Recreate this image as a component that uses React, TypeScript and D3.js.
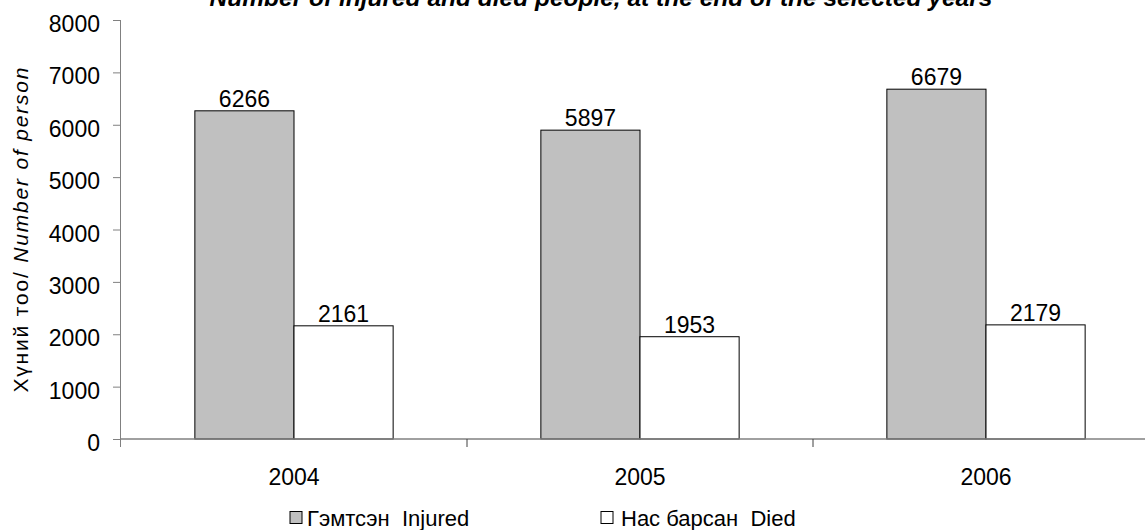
// App.tsx
import React, { useEffect, useRef } from 'react';
import * as d3 from 'd3';

// Chart data
const years = ['2004', '2005', '2006'];
const injured = [6266, 5897, 6679];
const died = [2161, 1953, 2179];
const yTicks = [0, 1000, 2000, 3000, 4000, 5000, 6000, 7000, 8000];
const seriesNames = ['Гэмтсэн  Injured', 'Нас барсан  Died'];
const seriesColors = ['#C0C0C0', '#FFFFFF'];

const App = () => {
  const d3Container = useRef<SVGSVGElement>(null);

  useEffect(() => {
    if (!d3Container.current) return;

    const width = 1145, height = 530;
    const margin = { top: 20, right: 0, bottom: 91, left: 121 };
    const font = '"Liberation Sans", Arial, sans-serif';

    const svg = d3.select(d3Container.current);
    svg.selectAll('*').remove();

    // x runs a little past the right edge, like the original plot area
    const x = d3.scaleBand()
                .domain(years)
                .range([margin.left, margin.left + 346 * 3])
                .paddingInner(0)
                .paddingOuter(0);

    const inner = d3.scaleBand()
                    .domain(['0', '1'])
                    .range([0, x.bandwidth()])
                    .paddingOuter(0.745)
                    .paddingInner(0);

    const y = d3.scaleLinear()
                .domain([0, 8000])
                .range([height - margin.bottom, margin.top]);

    // Title (cut at the top in the original)
    svg.append('text')
       .attr('x', 601)
       .attr('y', 6)
       .attr('text-anchor', 'middle')
       .attr('font-family', font)
       .attr('font-size', 24.5)
       .attr('font-weight', 'bold')
       .attr('font-style', 'italic')
       .text('Number of injured and died people, at the end of the selected years');

    // Bars
    const groups = svg.append('g')
      .selectAll('g')
      .data(years.map((yr, i) => ({ yr, vals: [injured[i], died[i]] })))
      .join('g')
        .attr('transform', d => `translate(${x(d.yr)},0)`);

    groups.selectAll('rect')
      .data(d => d.vals.map((v, k) => ({ v, k })))
      .join('rect')
        .attr('x', d => inner(String(d.k)) ?? 0)
        .attr('y', d => y(d.v))
        .attr('width', inner.bandwidth())
        .attr('height', d => y(0) - y(d.v))
        .attr('fill', d => seriesColors[d.k])
        .attr('stroke', '#000')
        .attr('stroke-width', 1);

    groups.selectAll('text')
      .data(d => d.vals.map((v, k) => ({ v, k })))
      .join('text')
        .attr('x', d => (inner(String(d.k)) ?? 0) + inner.bandwidth() / 2)
        .attr('y', d => y(d.v) - 4)
        .attr('text-anchor', 'middle')
        .attr('font-family', font)
        .attr('font-size', 23)
        .text(d => d.v);

    // Y axis
    const yAxis = svg.append('g')
      .attr('transform', `translate(${margin.left},0)`)
      .call(d3.axisLeft(y).tickValues(yTicks).tickSize(8).tickPadding(13).tickFormat(d3.format('d')));
    yAxis.selectAll('line').attr('stroke', '#808080');
    yAxis.select('.domain').attr('stroke', '#808080').attr('d', `M-0.5,${y(8000)}V${y(0) + 8}`);
    yAxis.selectAll('text')
         .attr('dy', '0.5em')
         .attr('font-family', font)
         .attr('font-size', 23)
         .attr('fill', '#000');

    // X axis with ticks between categories
    const xAxis = svg.append('g')
      .attr('transform', `translate(0,${y(0)})`);
    xAxis.append('line')
         .attr('x1', margin.left)
         .attr('x2', width)
         .attr('stroke', '#808080')
         .attr('stroke-width', 1.5);
    xAxis.selectAll('line.tick')
         .data(years.slice(1))
         .join('line')
           .attr('class', 'tick')
           .attr('x1', d => x(d) ?? 0)
           .attr('x2', d => x(d) ?? 0)
           .attr('y1', 0)
           .attr('y2', 8)
           .attr('stroke', '#404040');
    xAxis.selectAll('text')
         .data(years)
         .join('text')
           .attr('x', d => (x(d) ?? 0) + x.bandwidth() / 2)
           .attr('y', 46)
           .attr('text-anchor', 'middle')
           .attr('font-family', font)
           .attr('font-size', 23)
           .text(d => d);

    // Y axis title
    const yTitle = svg.append('text')
      .attr('transform', `translate(28,230) rotate(-90)`)
      .attr('text-anchor', 'middle')
      .attr('font-family', font)
      .attr('font-size', 21)
      .attr('textLength', 325)
      .attr('lengthAdjust', 'spacing');
    yTitle.append('tspan').text('Хүний тоо/ ');
    yTitle.append('tspan').attr('font-style', 'italic').text('Number of person');

    // Legend
    const boxX = [290, 601];
    const textX = [307, 621];
    const legend = svg.append('g')
      .selectAll('g')
      .data(seriesNames)
      .join('g');
    legend.append('rect')
          .attr('x', (d, i) => boxX[i])
          .attr('y', 511.5)
          .attr('width', 12)
          .attr('height', 12)
          .attr('fill', (d, i) => seriesColors[i])
          .attr('stroke', '#000');
    legend.append('text')
          .attr('x', (d, i) => textX[i])
          .attr('y', 526)
          .attr('font-family', font)
          .attr('font-size', 22)
          .style('white-space', 'pre')
          .text(d => d);
  }, []);

  return (
    <svg
      ref={d3Container}
      width={1145}
      height={530}
      style={{ position: 'absolute', left: 0, top: 0, background: '#fff' }}
    />
  );
};

export default App;
